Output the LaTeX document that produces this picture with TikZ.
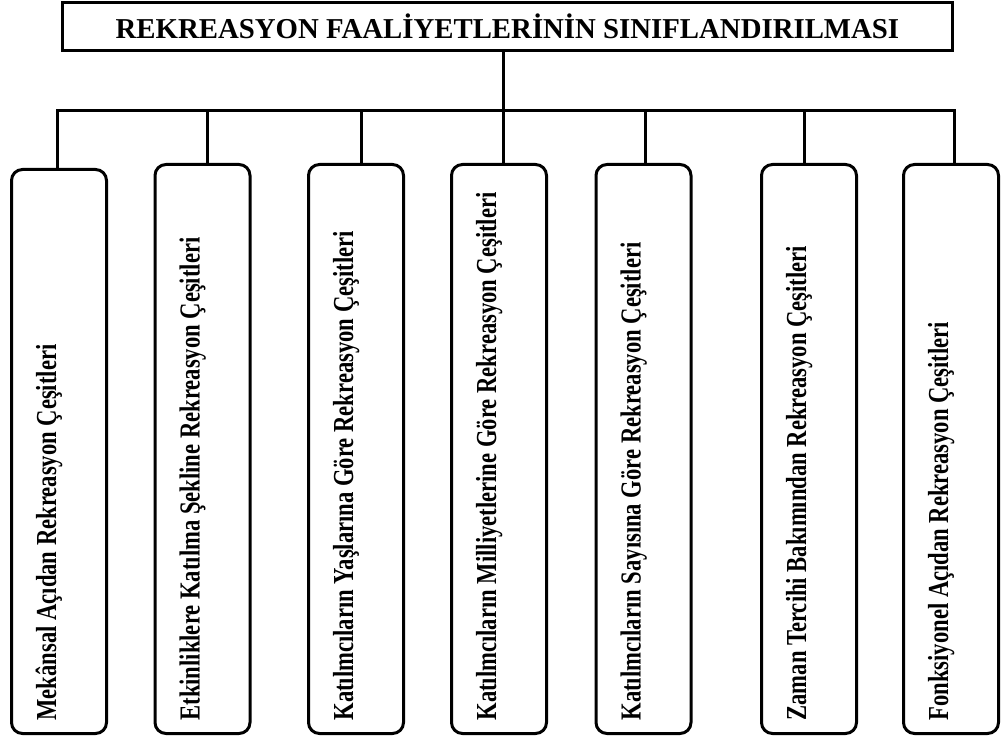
\documentclass[tikz,border=0pt]{standalone}
\usepackage{fontspec}
\setmainfont{Liberation Serif}
\usetikzlibrary{calc}
\begin{document}
\begin{tikzpicture}[x=1pt,y=1pt,line width=3pt,
  titlebox/.style={draw, minimum width=890pt, minimum height=48pt, inner sep=0pt,
    font=\bfseries\fontsize{28.8}{29}\selectfont},
  catbox/.style={draw, rounded corners=11pt, minimum width=95pt, minimum height=569pt, inner sep=0pt},
  cattext/.style={rotate=90, anchor=base west, inner sep=0pt,
    font=\bfseries\fontsize{29}{29}\selectfont},
  conn/.style={line width=3pt}]
\useasboundingbox (0,0) rectangle (1004,740);
\fill[white] (0,0) rectangle (1004,740);
\node[titlebox] (top) at (507.5,713.5) {REKREASYON FAAL\.IYETLER\.IN\.IN SINIFLANDIRILMASI};

\node[catbox, minimum height=564pt] (c1) at (59,288.5) {};
\node[catbox] (c2) at (202.5,291) {};
\node[catbox] (c3) at (356,291) {};
\node[catbox] (c4) at (499,291) {};
\node[catbox] (c5) at (643.5,291) {};
\node[catbox] (c6) at (809,291) {};
\node[catbox] (c7) at (951,291) {};

\node[cattext] (t1) at ($(c1.south)+(-3,13)$) {\scalebox{0.78}[1]{Mekânsal Açıdan Rekreasyon Çeşitleri}};
\node[cattext] (t2) at ($(c2.south)+(-3,13)$) {\scalebox{0.78}[1]{Etkinliklere Katılma Şekline Rekreasyon Çeşitleri}};
\node[cattext] (t3) at ($(c3.south)+(-3,13)$) {\scalebox{0.78}[1]{Katılmcıların Yaşlarına Göre Rekreasyon Çeşitleri}};
\node[cattext] (t4) at ($(c4.south)+(-3,13)$) {\scalebox{0.78}[1]{Katılmcıların Milliyetlerine Göre Rekreasyon Çeşitleri}};
\node[cattext] (t5) at ($(c5.south)+(-3,13)$) {\scalebox{0.78}[1]{Katılmcıların Sayısına Göre Rekreasyon Çeşitleri}};
\node[cattext] (t6) at ($(c6.south)+(-3,13)$) {\scalebox{0.78}[1]{Zaman Tercihi Bakımından Rekreasyon Çeşitleri}};
\node[cattext] (t7) at ($(c7.south)+(-3,13)$) {\scalebox{0.78}[1]{Fonksiyonel Açıdan Rekreasyon Çeşitleri}};

\coordinate (d1) at (57,629);
\coordinate (d2) at (207,629);
\coordinate (d3) at (361,629);
\coordinate (d4) at (503,629);
\coordinate (d5) at (645,629);
\coordinate (d6) at (804,629);
\coordinate (d7) at (954,629);

\draw[conn] (c1.north -| d1) -- (d1) -- (d7) -- (c7.north -| d7);
\draw[conn] (top.south -| d4) -- (c4.north -| d4);
\draw[conn] (d2) -- (c2.north -| d2);
\draw[conn] (d3) -- (c3.north -| d3);
\draw[conn] (d5) -- (c5.north -| d5);
\draw[conn] (d6) -- (c6.north -| d6);
\end{tikzpicture}
\end{document}
